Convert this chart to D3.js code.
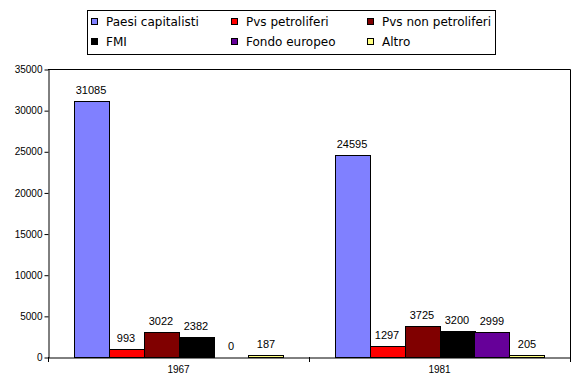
<!DOCTYPE html>
<html>
<head>
<meta charset="utf-8">
<script src="https://cdn.jsdelivr.net/npm/d3@7"></script>
<style>
  body { margin: 0; background: #fff; }
  svg { display: block; }
</style>
</head>
<body>
<svg width="585" height="381"></svg>
<script>
// data
var years = ["1967", "1981"];
var series = ["Paesi capitalisti", "Pvs petroliferi", "Pvs non petroliferi", "FMI", "Fondo europeo", "Altro"];
var colors = ["#8080ff", "#ff0000", "#800000", "#000000", "#660099", "#ffff80"];
var values1967 = [31085, 993, 3022, 2382, 0, 187];
var values1981 = [24595, 1297, 3725, 3200, 2999, 205];
var yTicks = [0, 5000, 10000, 15000, 20000, 25000, 30000, 35000];

var rows = [values1967, values1981];

var svg = d3.select("svg");
// note: "top" is taken by window.top, so plot edges get their own names
var plotLeft = 48, plotRight = 570, plotTop = 69, plotBottom = 357;

var x0 = d3.scaleBand().domain(years).range([plotLeft, plotRight]).paddingInner(0).paddingOuter(0);
var x1 = d3.scaleBand().domain(d3.range(series.length))
    .range([0, x0.bandwidth()]).paddingInner(0).paddingOuter(0.73);
var y = d3.scaleLinear().domain([0, 35000]).range([plotBottom, plotTop]);

// plot frame (top + right)
svg.append("path")
    .attr("d", "M" + plotLeft + "," + (plotTop + 0.5) + "H" + (plotRight + 0.5) + "V" + plotBottom)
    .attr("fill", "none")
    .attr("stroke", "#000");

// bars
var groups = svg.selectAll("g.year")
    .data(rows)
    .enter().append("g")
    .attr("class", "year")
    .attr("transform", function (d, i) { return "translate(" + x0(years[i]) + ",0)"; });

groups.selectAll("rect")
    .data(function (d) { return d; })
    .enter().append("rect")
    .attr("x", function (d, i) { return Math.round(x1(i)) + 0.5; })
    .attr("y", function (d) { return Math.round(y(d)) + 0.5; })
    .attr("width", Math.round(x1.bandwidth()))
    .attr("height", function (d) { return Math.max(0, plotBottom - Math.round(y(d))); })
    .attr("fill", function (d, i) { return colors[i]; })
    .attr("stroke", "#000")
    .attr("stroke-width", 1)
    .style("display", function (d) { return d > 0 ? null : "none"; });

groups.selectAll("text")
    .data(function (d) { return d; })
    .enter().append("text")
    .attr("x", function (d, i) { return x1(i) + x1.bandwidth() / 2; })
    .attr("y", function (d) { return y(d) - 7; })
    .attr("text-anchor", "middle")
    .attr("font-family", "Liberation Sans, Arial, sans-serif")
    .attr("font-size", "11px")
    .text(function (d) { return d; });

// y axis
var yAxis = svg.append("g")
    .attr("transform", "translate(" + (plotLeft + 0.5) + ",0.5)")
    .call(d3.axisLeft(y).tickValues(yTicks).tickSize(4).tickSizeOuter(0).tickPadding(2)
        .tickFormat(d3.format("d")));
yAxis.select(".domain").attr("stroke", "#000");
yAxis.selectAll("text")
    .attr("font-family", "Liberation Sans, Arial, sans-serif")
    .attr("font-size", "10px")
    .attr("fill", "#000");

// x axis
var xAxis = svg.append("g")
    .attr("transform", "translate(0," + (plotBottom + 0.5) + ")")
    .call(d3.axisBottom(x0).tickSize(0).tickSizeOuter(0).tickPadding(8));
xAxis.select(".domain").attr("stroke", "#000");
xAxis.selectAll("text")
    .attr("font-family", "Liberation Sans, Arial, sans-serif")
    .attr("font-size", "10px")
    .attr("fill", "#000");
// tick marks at the band edges
svg.selectAll("line.xtick")
    .data([plotLeft, x0(years[1]), plotRight])
    .enter().append("line")
    .attr("class", "xtick")
    .attr("x1", function (d) { return Math.round(d) + 0.5; })
    .attr("x2", function (d) { return Math.round(d) + 0.5; })
    .attr("y1", plotBottom)
    .attr("y2", plotBottom + 5)
    .attr("stroke", "#000");

// legend
var legend = svg.append("g");
legend.append("rect")
    .attr("x", 87.5).attr("y", 10.5)
    .attr("width", 408).attr("height", 44)
    .attr("fill", "#fff").attr("stroke", "#000");

var colX = [91, 231, 367];
var rowY = [22, 42];
var items = legend.selectAll("g.item")
    .data(series)
    .enter().append("g")
    .attr("class", "item")
    .attr("transform", function (d, i) {
        return "translate(" + colX[i % 3] + "," + rowY[Math.floor(i / 3)] + ")";
    });
items.append("rect")
    .attr("x", 0.5).attr("y", -3.5)
    .attr("width", 6).attr("height", 6)
    .attr("fill", function (d, i) { return colors[i]; })
    .attr("stroke", "#000");
items.append("text")
    .attr("x", 15)
    .attr("y", 4)
    .attr("font-family", "DejaVu Sans, Verdana, sans-serif")
    .attr("font-size", "12px")
    .text(function (d) { return d; });
</script>
</body>
</html>
